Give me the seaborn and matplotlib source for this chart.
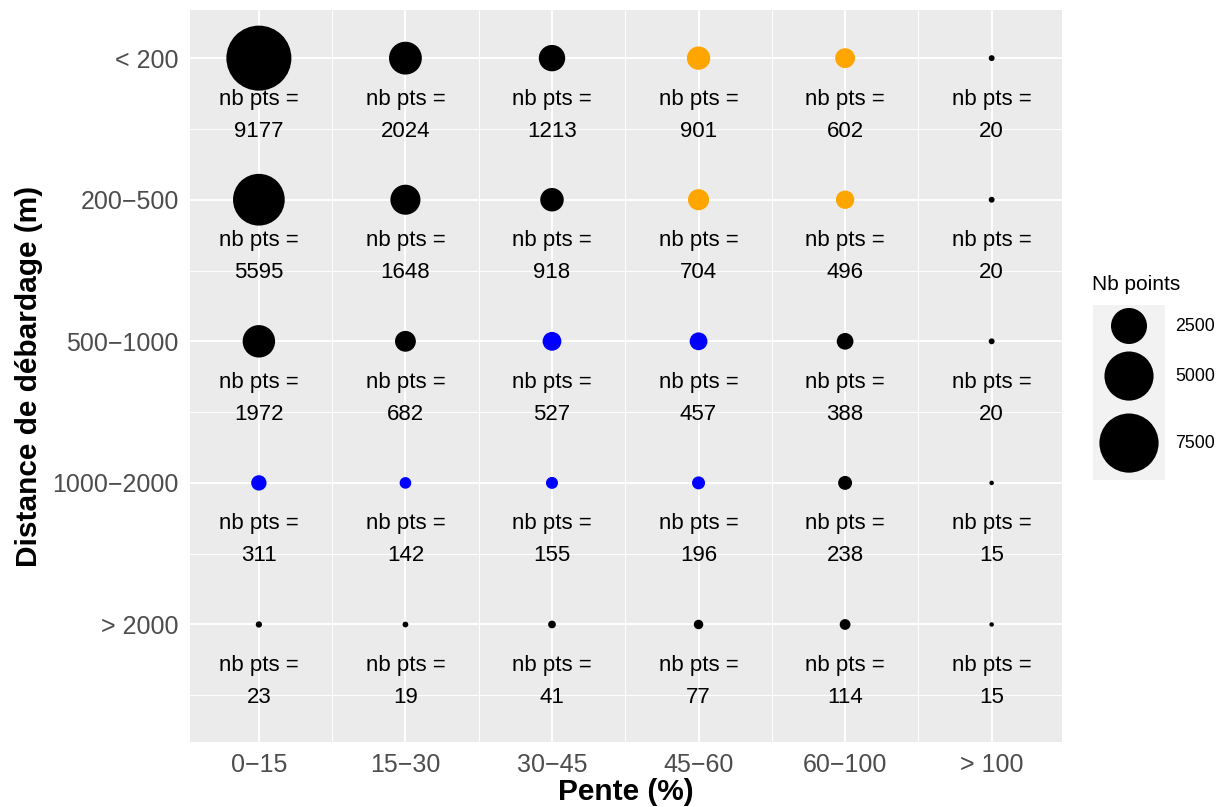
import numpy as np
import pandas as pd
import matplotlib
matplotlib.use("Agg")
import matplotlib.pyplot as plt
import seaborn as sns

# ---- data ----
pente = ["0\u221215", "15\u221230", "30\u221245", "45\u221260", "60\u2212100", "> 100"]
distance = ["< 200", "200\u2212500", "500\u22121000", "1000\u22122000", "> 2000"]
nb_lt200 = [9177, 2024, 1213, 901, 602, 20]
nb_200_500 = [5595, 1648, 918, 704, 496, 20]
nb_500_1000 = [1972, 682, 527, 457, 388, 20]
nb_1000_2000 = [311, 142, 155, 196, 238, 15]
nb_gt2000 = [23, 19, 41, 77, 114, 15]
grp_lt200 = ["k", "k", "k", "o", "o", "k"]
grp_200_500 = ["k", "k", "k", "o", "o", "k"]
grp_500_1000 = ["k", "k", "b", "b", "k", "k"]
grp_1000_2000 = ["b", "b", "b", "b", "k", "k"]
grp_gt2000 = ["k", "k", "k", "k", "k", "k"]
legend_values = [2500, 5000, 7500]

counts = [nb_lt200, nb_200_500, nb_500_1000, nb_1000_2000, nb_gt2000]
groups = [grp_lt200, grp_200_500, grp_500_1000, grp_1000_2000, grp_gt2000]

rows = []
for i, d in enumerate(distance):
    for j, p in enumerate(pente):
        rows.append({"x": j, "y": i, "pente": p, "distance": d,
                     "nb": counts[i][j], "grp": groups[i][j]})
df = pd.DataFrame(rows)

palette = {"k": "#000000", "o": "#FFA500", "b": "#0000FF"}
VMIN, VMAX = df["nb"].min(), df["nb"].max()
DMIN_PX, DMAX_PX = 4.5, 65.0  # ggplot-like size range (diameters, px)


def size_of(v):
    frac = np.sqrt(max(v - VMIN, 0) / (VMAX - VMIN))
    d_px = DMIN_PX + (DMAX_PX - DMIN_PX) * frac
    return (d_px * 0.72) ** 2  # marker area in pt^2 at 100 dpi


size_map = {v: size_of(v) for v in df["nb"].unique()}

FONT = "Liberation Sans"
sns.set_theme(style="darkgrid")
plt.rcParams["font.family"] = [FONT, "DejaVu Sans"]

fig = plt.figure(figsize=(12.23, 8.07), dpi=100)
ax = fig.add_axes([190 / 1223, 1 - 742 / 807, (1062 - 190) / 1223, (742 - 10) / 807])
ax.set_facecolor("#EBEBEB")

sns.scatterplot(data=df, x="x", y="y", hue="grp", palette=palette,
                size="nb", sizes=size_map,
                edgecolor="none", linewidth=0, legend=False, ax=ax, zorder=3)

for _, r in df.iterrows():
    ax.text(r["x"], r["y"] + 0.29, "nb pts =", ha="center", va="center",
            fontsize=16, color="black", zorder=4)
    ax.text(r["x"], r["y"] + 0.515, str(r["nb"]), ha="center", va="center",
            fontsize=16, color="black", zorder=4)

ax.set_xlim(-0.47, 5.48)
ax.set_ylim(4.83, -0.34)
ax.set_xticks(range(len(pente)))
ax.set_xticklabels(pente)
ax.set_yticks(range(len(distance)))
ax.set_yticklabels(distance)
ax.set_xticks(np.arange(0.5, len(pente) - 1, 1.0), minor=True)
ax.set_yticks(np.arange(0.5, len(distance), 1.0), minor=True)
ax.grid(which="major", color="white", linewidth=1.4)
ax.grid(which="minor", color="white", linewidth=0.7)
ax.set_axisbelow(True)
for s in ax.spines.values():
    s.set_visible(False)
ax.tick_params(axis="both", which="major", length=5, width=1.1, color="#333333",
               labelsize=18, labelcolor="#4D4D4D", pad=3)
ax.tick_params(axis="both", which="minor", length=0)
ax.set_xlabel("Pente (%)", fontsize=21.5, fontweight="bold", color="black", labelpad=1)
ax.set_ylabel("Distance de d\u00e9bardage (m)", fontsize=21.5, fontweight="bold",
              color="black", labelpad=7)

# ---- legend ----
lax = fig.add_axes([1093 / 1223, 1 - 480 / 807, 72 / 1223, 175 / 807])
lax.set_facecolor("#F2F2F2")
lax.set_xlim(0, 1)
lax.set_ylim(1, 0)
lax.set_xticks([])
lax.set_yticks([])
lax.grid(False)
for s in lax.spines.values():
    s.set_visible(False)
leg_y = [0.12, 0.406, 0.789]
lax.scatter([0.5] * 3, leg_y, s=[size_of(v) for v in legend_values], color="black",
            edgecolor="none", clip_on=False, zorder=3)
for yy, v in zip(leg_y, legend_values):
    lax.text(1.14, yy, str(v), ha="left", va="center", fontsize=12.8, color="black",
             transform=lax.transData, clip_on=False)
fig.text(1092 / 1223, 1 - 285 / 807, "Nb points", ha="left", va="center",
         fontsize=15, color="black")

fig.savefig("out.png", dpi=100, facecolor="white")
